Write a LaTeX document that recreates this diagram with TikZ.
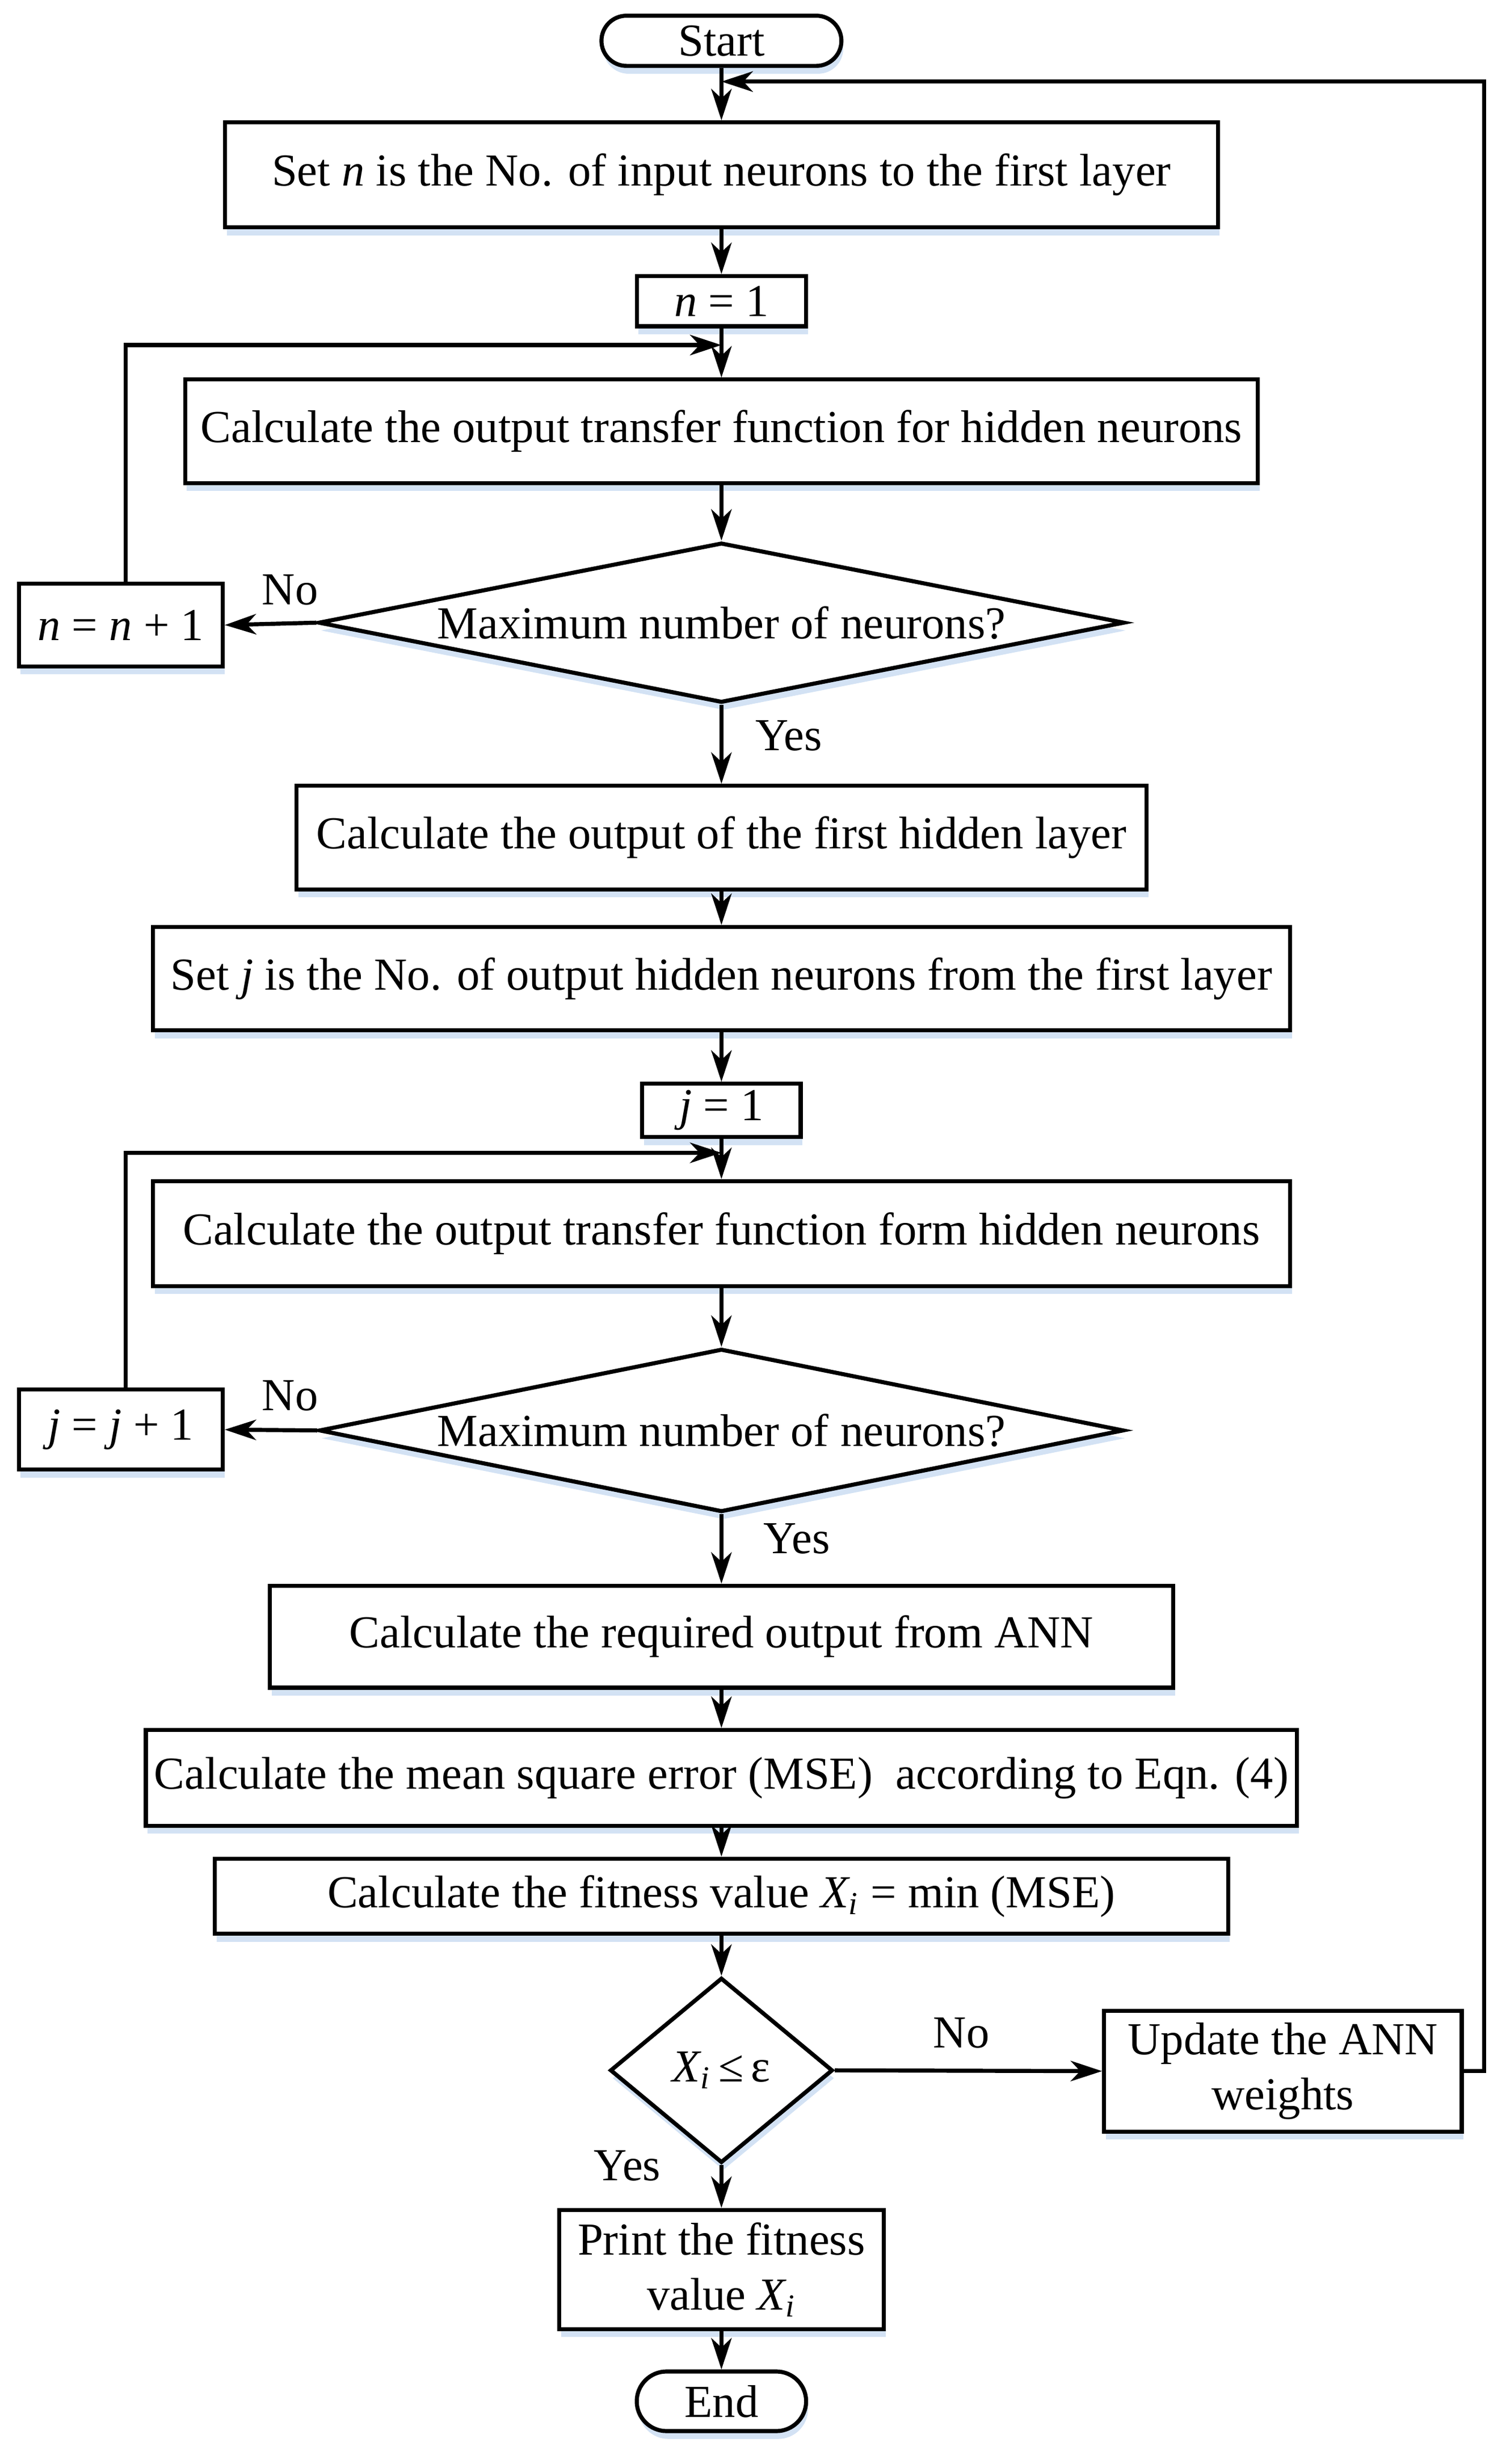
\documentclass[tikz,border=0pt]{standalone}
\usepackage{fontspec}
\setmainfont{Liberation Serif}
\usetikzlibrary{shapes.geometric,shapes.misc,shadows,arrows.meta}
\definecolor{shblue}{HTML}{D3E2F4}
\begin{document}
\begin{tikzpicture}[x=0.5pt,y=-0.5pt,
  font=\fontsize{14.6}{17.5}\selectfont,
  shd/.style={drop shadow={shadow xshift=0.6pt,shadow yshift=-2.5pt,fill=shblue,opacity=1}},
  bx/.style={draw,line width=1.3pt,fill=white,shd,inner sep=0pt,minimum width=#1},
  term/.style={draw,line width=1.3pt,fill=white,shd,rounded rectangle,inner sep=0pt,minimum width=#1},
  dia/.style={draw,line width=1.3pt,fill=white,shd,diamond,inner sep=0pt,minimum width=#1},
  arr/.style={line width=1.3pt,-{Stealth[length=10pt,width=6.5pt,inset=3pt]}},
  lbl/.style={inner sep=0pt}]
\useasboundingbox (0,0) rectangle (960,1571);
% nodes
\node[term=76.5pt,minimum height=16pt] (start) at (460,26) {Start};
\node[bx=316.5pt,minimum height=33.5pt] (b1) at (460,111.5) {Set \textit{n} is the No. of input neurons to the first layer};
\node[bx=54pt,minimum height=16pt] (n1) at (460,192) {\textit{n} = 1};
\node[bx=342pt,minimum height=33pt] (b2) at (460,275) {Calculate the output transfer function for hidden neurons};
\node[dia=257pt,minimum height=51pt] (d1) at (460,397) {\makebox[0pt]{Maximum number of neurons?}};
\node[bx=65pt,minimum height=26.5pt] (nn) at (77,398.5) {\textit{n} = \textit{n} + 1};
\node[bx=271pt,minimum height=33pt] (b3) at (460,534) {Calculate the output of the first hidden layer};
\node[bx=362.5pt,minimum height=33pt] (b4) at (460,624) {Set \textit{j} is the No. of output hidden neurons from the first layer};
\node[bx=50.5pt,minimum height=17pt] (j1) at (460,708) {\textit{j} = 1};
\node[bx=362.5pt,minimum height=33.5pt] (b5) at (460,786.5) {Calculate the output transfer function form hidden neurons};
\node[dia=256.5pt,minimum height=52pt] (d2) at (460,912) {\makebox[0pt]{Maximum number of neurons?}};
\node[bx=65pt,minimum height=25.5pt] (jj) at (77,911.5) {\textit{j} = \textit{j} + 1};
\node[bx=288pt,minimum height=32.5pt] (b6) at (460,1043.5) {Calculate the required output from ANN};
\node[bx=367pt,minimum height=30.5pt] (b7) at (460,1133.5) {Calculate the mean square error (MSE)\ \ according to Eqn. (4)};
\node[bx=323pt,minimum height=24pt] (b8) at (460,1209) {Calculate the fitness value \textit{X\textsubscript{i}} = min (MSE)};
\node[dia=71pt,minimum height=59pt] (d3) at (460,1320) {\makebox[0pt]{\textit{X\textsubscript{i}}\,≤\,ε}};
\node[bx=114pt,minimum height=38.5pt,align=center] (up) at (818,1320.5) {Update the ANN\\weights};
\node[bx=103.5pt,minimum height=38pt,align=center] (pr) at (460,1447) {Print the fitness\\value \textit{X\textsubscript{i}}};
\node[term=54pt,minimum height=19pt] (end) at (460,1531) {End};
% labels
\node[lbl] (no1) at (185,376) {No};
\node[lbl] (yes1) at (503,469) {Yes};
\node[lbl] (no2) at (185,890) {No};
\node[lbl] (yes2) at (508,981) {Yes};
\node[lbl] (no3) at (613,1296) {No};
\node[lbl] (yes3) at (400,1381) {Yes};
% junctions
\coordinate (m0) at (460,52);
\coordinate (m1) at (460,220);
\coordinate (m2) at (460,735);
% connectors
\draw[arr] (start) -- (b1);
\draw[arr] (b1) -- (n1);
\draw[arr] (n1) -- (b2);
\draw[arr] ([xshift=1.5pt]nn.north) |- (m1);
\draw[arr] (b2) -- (d1);
\draw[arr] (d1.west) -- (nn.east);
\draw[arr] (d1.south) -- (b3);
\draw[arr] (b3) -- (b4);
\draw[arr] (b4) -- (j1);
\draw[arr] (j1) -- (b5);
\draw[arr] ([xshift=1.5pt]jj.north) |- (m2);
\draw[arr] (b5) -- (d2);
\draw[arr] (d2.west) -- (jj.east);
\draw[arr] (d2.south) -- (b6);
\draw[arr] (b6) -- (b7);
\draw[arr] (b7) -- (b8);
\draw[arr] (b8) -- (d3);
\draw[arr] (d3.east) -- (up.west);
\draw[arr] (d3.south) -- (pr);
\draw[arr] (pr) -- (end);
\draw[arr] (up.east) -- ++(13,0) |- (m0);
\end{tikzpicture}
\end{document}
